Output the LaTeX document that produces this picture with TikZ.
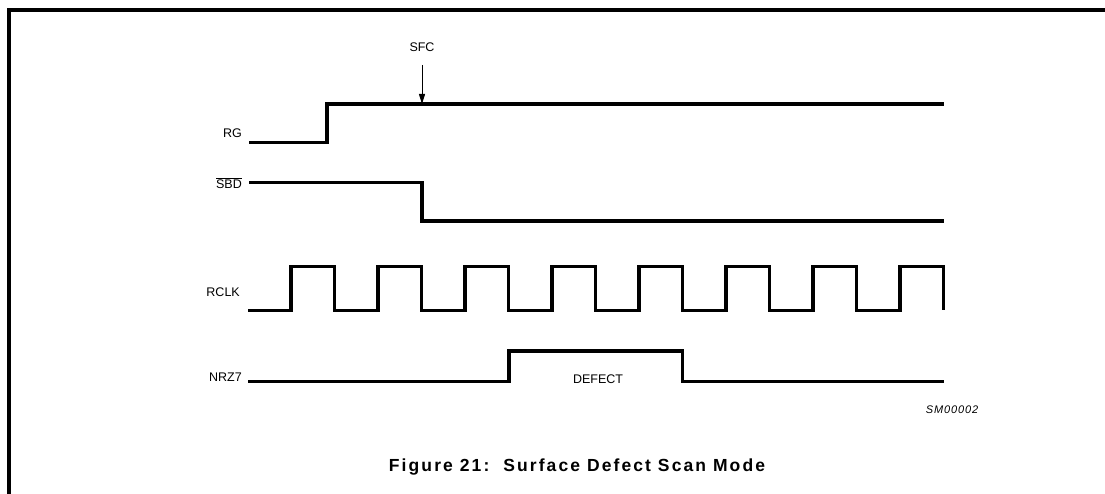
\documentclass[tikz,border=0pt]{standalone}
\usepackage{fontspec}
\setmainfont{Liberation Sans}
\usetikzlibrary{arrows.meta}
\tikzset{
  wave/.style={line width=3.2pt, line join=miter, line cap=butt},
  frame/.style={line width=3.6pt},
  lbl/.style={inner sep=0pt, anchor=base east, font=\fontsize{12.5}{14}\selectfont},
  txt/.style={inner sep=0pt, anchor=base, font=\fontsize{12.5}{14}\selectfont},
  marker/.style={line width=1pt, -{Triangle[length=10pt,width=6pt]}},
}
\begin{document}
\begin{tikzpicture}[x=1pt,y=-1pt]
\useasboundingbox (0,0) rectangle (1105,494);
% frame
\draw[frame] (9,494) -- (9,10) -- (1105,10);
% labels
\node[lbl] (rg) at (242,137.5) {RG};
\node[lbl] (sbd) at (242,188.5) {$\overline{\hbox{SBD}}$};
\node[lbl] (rclk) at (240,296) {RCLK};
\node[lbl] (nrz) at (242,381.5) {NRZ7};
\node[txt] (sfc) at (422,51.5) {SFC};
\node[txt] (defect) at (598,383.5) {DEFECT};
\node[inner sep=0pt, anchor=base, font=\fontsize{11}{13}\selectfont\itshape\addfontfeatures{LetterSpace=8}] (sm) at (952,413.3) {SM00002};
\node[inner sep=0pt, anchor=base, font=\fontsize{17.5}{20}\selectfont\bfseries\addfontfeatures{LetterSpace=12}] (title) at (577,471) {Figure 21:\ \ Surface Defect Scan Mode};
% RG
\draw[wave] (249,142.3) -- (327,142.3) -- (327,104) -- (944,104);
% SFC arrow
\coordinate (sfctip) at (422,104);
\draw[marker] (422,65) -- (sfctip);
% SBD
\draw[wave] (249,182.3) -- (422,182.3) -- (422,221) -- (944,221);
% RCLK
\draw[wave] (248,310.3)
  \foreach \k in {0,...,7} {
    -- ({291+87*\k},310.3) -- ({291+87*\k},266.7)
    -- ({334.5+87*\k},266.7) -- ({334.5+87*\k},310.3)
  };
% NRZ7
\draw[wave] (248,381.7) -- (509,381.7) -- (509,351) -- (682.5,351) -- (682.5,381.7) -- (944,381.7);
\end{tikzpicture}
\end{document}
